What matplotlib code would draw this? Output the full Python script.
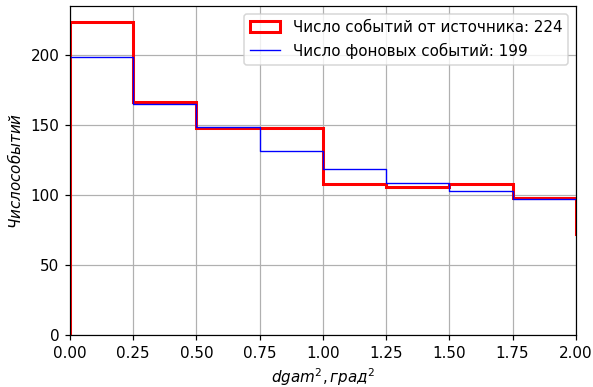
import numpy as np
import matplotlib
matplotlib.use('Agg')
import matplotlib.pyplot as plt

# bin edges in dgam^2 (last bin lies past the plotted range)
edges = np.arange(0, 2.26, 0.25)
src_counts = [224, 167, 148, 148, 108, 106, 108, 98, 72]
bkg_counts = [199, 165, 149, 132, 119, 109, 103, 97]

dpi = 109
fig, ax = plt.subplots(figsize=(593 / dpi, 387 / dpi), dpi=dpi)
fig.subplots_adjust(left=0.118, right=0.971, top=0.984, bottom=0.134)

ax.hist(edges[:-1], bins=edges, weights=src_counts, histtype='step',
        color='red', linewidth=2,
        label='Число событий от источника: %d' % src_counts[0])

x_bkg = edges[:len(bkg_counts) + 1]
y_bkg = bkg_counts + [bkg_counts[-1]]
ax.plot(x_bkg, y_bkg, drawstyle='steps-post', color='blue', linewidth=0.9,
        label='Число фоновых событий: %d' % bkg_counts[0])

ax.set_xlim(0, 2)
ax.set_ylim(0, max(src_counts) * 1.05)
ax.grid(True, color='#b0b0b0')
ax.set_xlabel('$dgam^2, град^2$')
ax.set_ylabel('$Число событий$')
ax.legend(loc='upper right')

fig.savefig('out.png', dpi=dpi)
